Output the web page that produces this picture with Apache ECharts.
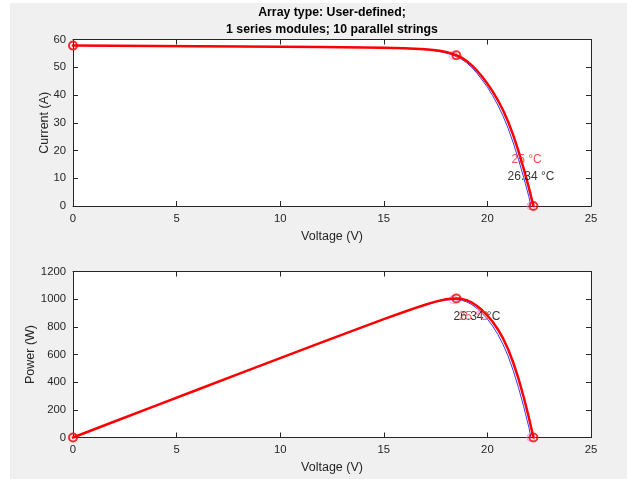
<!DOCTYPE html>
<html>
<head>
<meta charset="utf-8">
<script src="https://cdn.jsdelivr.net/npm/echarts@6/dist/echarts.min.js"></script>
<style>
html,body{margin:0;padding:0;background:#fff;}
#c{width:627px;height:479px;}
</style>
</head>
<body>
<div id="c"></div>
<script>
// ---- data ----
const titleLines = ['Array type: User-defined;', '1 series modules; 10 parallel strings'];
const xTicks = [0, 5, 10, 15, 20, 25];
const iTicks = [0, 10, 20, 30, 40, 50, 60];
const pTicks = [0, 200, 400, 600, 800, 1000, 1200];

// 25 °C (red) curve
const vRed = [0, 2, 4, 6, 8, 10, 12, 14, 15, 16, 16.5, 17, 17.25, 17.5, 17.75, 18, 18.25, 18.5, 18.75, 19, 19.25, 19.5, 19.75, 20, 20.25, 20.5, 20.75, 21, 21.25, 21.5, 21.75, 22, 22.22];
const iRed = [57.8, 57.72, 57.64, 57.56, 57.48, 57.4, 57.3, 57.15, 57.03, 56.83, 56.68, 56.47, 56.32, 56.12, 55.85, 55.5, 55.0, 54.35, 53.46, 52.24, 50.66, 48.76, 46.56, 44.07, 41.3, 38.19, 34.6, 30.37, 25.43, 19.78, 13.47, 6.6, 0];
const pRed = [0, 115.44, 230.56, 345.36, 459.84, 574, 687.6, 800.1, 855.45, 909.28, 935.22, 959.99, 971.5, 982.1, 991.34, 999, 1003.75, 1005.48, 1002.38, 992.56, 975.2, 950.82, 919.56, 881.4, 836.33, 782.9, 717.95, 637.77, 540.39, 425.27, 292.97, 145.2, 0];

// 26.34 °C (blue) curve
const vBlue = [0, 2, 4, 6, 8, 10, 12, 14, 15, 16, 16.5, 17, 17.25, 17.5, 17.75, 18, 18.25, 18.5, 18.75, 19, 19.25, 19.5, 19.75, 20, 20.25, 20.5, 20.75, 21, 21.25, 21.5, 21.75, 22, 22.1];
const iBlue = [57.83, 57.75, 57.67, 57.59, 57.51, 57.42, 57.31, 57.13, 56.99, 56.75, 56.57, 56.32, 56.14, 55.9, 55.57, 55.15, 54.58, 53.85, 52.9, 51.6, 49.9, 47.8, 45.4, 42.8, 39.8, 36.4, 32.5, 28.0, 22.7, 16.8, 10.3, 3.4, 0];
const pBlue = [0, 115.5, 230.68, 345.54, 460.08, 574.2, 687.72, 799.82, 854.85, 908, 933.41, 957.44, 968.42, 978.25, 986.37, 992.7, 996.09, 996.23, 991.88, 980.4, 960.58, 932.1, 896.65, 856, 805.95, 746.2, 674.38, 588, 482.38, 361.2, 224.03, 74.8, 0];

// marked points (Isc, MPP, Voc)
const vMarkRed = [0, 18.5, 22.22];
const iMarkRed = [57.8, 54.35, 0];
const pMarkRed = [0, 1005.48, 0];
const vMarkBlue = [0, 18.35, 22.1];
const iMarkBlue = [57.83, 54.3, 0];
const pMarkBlue = [0, 996.4, 0];

// temperature annotations
const tempRed = '25 °C';
const tempBlue = '26.34 °C';
const ivLabelRed = [21.14, 16.6];
const ivLabelBlue = [20.95, 10.45];
const pvLabelRed = [18.58, 871];
const pvLabelBlue = [18.34, 871];

// ---- build ----
const zip = (a, b) => a.map((v, k) => [v, b[k]]);
const FONT = "'Liberation Sans', Arial, Helvetica, sans-serif";
const AX = '#262626';
const grids = [
  {left: 73, top: 39.5, width: 518, height: 166.5},
  {left: 73, top: 271.5, width: 518, height: 166}
];

function xAx(g, pos, show) {
  return {
    type: 'value', gridIndex: g, position: pos, min: xTicks[0], max: xTicks[xTicks.length - 1],
    interval: xTicks[1] - xTicks[0],
    name: show ? 'Voltage (V)' : '', nameLocation: 'middle', nameGap: 24, nameMoveOverlap: false,
    nameTextStyle: {fontFamily: FONT, fontSize: 12.5, color: AX},
    axisLine: {show: true, onZero: false, lineStyle: {color: AX, width: 1}},
    axisTick: {show: true, inside: true, length: 5, lineStyle: {color: AX}},
    axisLabel: {show: show, margin: 7, fontFamily: FONT, fontSize: 11.3, color: AX, formatter: v => String(v)},
    splitLine: {show: false}
  };
}
function yAx(g, pos, ticks, name, gap, show) {
  return {
    type: 'value', gridIndex: g, position: pos, min: ticks[0], max: ticks[ticks.length - 1],
    interval: ticks[1] - ticks[0],
    name: show ? name : '', nameLocation: 'middle', nameGap: gap, nameMoveOverlap: false,
    nameTextStyle: {fontFamily: FONT, fontSize: 12.5, color: AX},
    axisLine: {show: true, onZero: false, lineStyle: {color: AX, width: 1}},
    axisTick: {show: true, inside: true, length: 5, lineStyle: {color: AX}},
    axisLabel: {show: show, margin: 7, fontFamily: FONT, fontSize: 11.3, color: AX, formatter: v => String(v)},
    splitLine: {show: false}
  };
}

function curve(xi, yi, data, color, width, z) {
  return {
    type: 'line', xAxisIndex: xi, yAxisIndex: yi, data: data, showSymbol: false, symbol: 'none',
    smooth: false, clip: false, z: z,
    lineStyle: {color: color, width: width, join: 'round', cap: 'round'}, animation: false
  };
}
function marks(xi, yi, data, color, bw, z) {
  return {
    type: 'scatter', xAxisIndex: xi, yAxisIndex: yi, data: data, symbol: 'circle', symbolSize: 8,
    clip: false, z: z,
    itemStyle: {color: 'rgba(0,0,0,0)', borderColor: color, borderWidth: bw}, animation: false
  };
}
function txt(xi, yi, pt, text, color, z) {
  return {
    type: 'scatter', xAxisIndex: xi, yAxisIndex: yi, data: [pt], symbolSize: 1, clip: false, z: z,
    itemStyle: {color: 'rgba(0,0,0,0)'},
    label: {show: true, position: 'right', distance: 0, formatter: text, color: color,
            fontFamily: FONT, fontSize: 12, align: 'left', verticalAlign: 'middle'},
    animation: false, silent: true
  };
}

const chart = echarts.init(document.getElementById('c'), null, {renderer: 'canvas'});
chart.setOption({
  backgroundColor: '#ffffff',
  animation: false,
  graphic: [
    {type: 'rect', left: 10, top: 3, shape: {width: 617, height: 476}, style: {fill: '#f0f0f0'}, z: -10, silent: true},
    {type: 'rect', left: grids[0].left, top: grids[0].top, shape: {width: grids[0].width, height: grids[0].height}, style: {fill: '#fff'}, z: -9, silent: true},
    {type: 'rect', left: grids[1].left, top: grids[1].top, shape: {width: grids[1].width, height: grids[1].height}, style: {fill: '#fff'}, z: -9, silent: true},
    {type: 'text', x: 332, y: 12.5, style: {text: titleLines[0], fill: '#000', font: 'bold 12.3px ' + FONT, textAlign: 'center', textVerticalAlign: 'middle'}},
    {type: 'text', x: 332, y: 29.5, style: {text: titleLines[1], fill: '#000', font: 'bold 12.3px ' + FONT, textAlign: 'center', textVerticalAlign: 'middle'}}
  ],
  grid: grids,
  xAxis: [xAx(0, 'bottom', true), xAx(0, 'top', false), xAx(1, 'bottom', true), xAx(1, 'top', false)],
  yAxis: [
    yAx(0, 'left', iTicks, 'Current (A)', 22, true), yAx(0, 'right', iTicks, '', 0, false),
    yAx(1, 'left', pTicks, 'Power (W)', 36, true), yAx(1, 'right', pTicks, '', 0, false)
  ],
  series: [
    curve(0, 0, zip(vBlue, iBlue), '#3a3aff', 1, 2),
    marks(0, 0, zip(vMarkBlue, iMarkBlue), '#f08cf0', 1, 3),
    curve(0, 0, zip(vRed, iRed), '#ff0000', 2.5, 4),
    marks(0, 0, zip(vMarkRed, iMarkRed), '#ff0000', 2, 5),
    txt(0, 0, ivLabelBlue, tempBlue, '#000000', 6),
    txt(0, 0, ivLabelRed, tempRed, '#ff2020', 7),

    curve(2, 2, zip(vBlue, pBlue), '#3a3aff', 1, 2),
    marks(2, 2, zip(vMarkBlue, pMarkBlue), '#f08cf0', 1, 3),
    curve(2, 2, zip(vRed, pRed), '#ff0000', 2.5, 4),
    marks(2, 2, zip(vMarkRed, pMarkRed), '#ff0000', 2, 5),
    txt(2, 2, pvLabelBlue, tempBlue, '#000000', 6),
    txt(2, 2, pvLabelRed, tempRed, '#ff4040', 7)
  ]
});
</script>
</body>
</html>
